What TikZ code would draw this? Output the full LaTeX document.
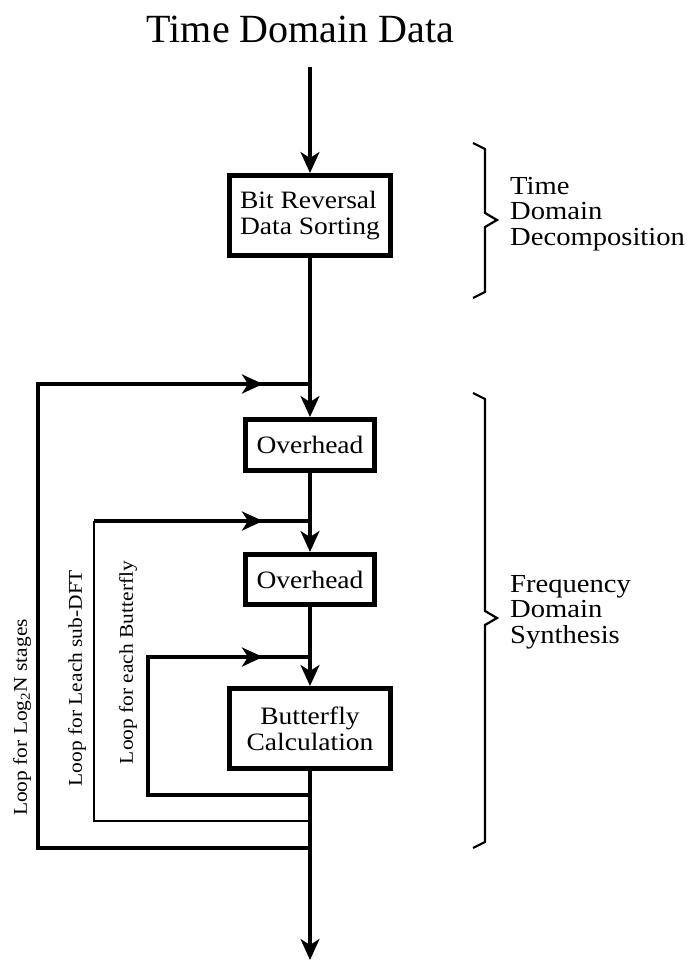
\documentclass[tikz,border=0pt]{standalone}
\usepackage{fontspec}
\setmainfont{Liberation Serif}
\newfontfamily\labfont[FakeStretch=1.1]{Liberation Serif}
\usetikzlibrary{arrows.meta}
\begin{document}
\begin{tikzpicture}[x=1bp,y=-1bp,
  flowline/.style={line width=3.2bp},
  thickloop/.style={line width=4.5bp},
  thinloop/.style={line width=2.8bp},
  tip/.style={-{Stealth[length=21bp,width=19bp,inset=6bp]}},
  procbox/.style={draw,line width=5bp,inner sep=0pt,font=\labfont\fontsize{25bp}{26bp}\selectfont},
  looplabel/.style={rotate=90,inner sep=0pt,font=\labfont\fontsize{19.5bp}{22bp}\selectfont},
  bracelabel/.style={anchor=west,inner sep=0pt,align=left,font=\labfont\fontsize{26bp}{25.5bp}\selectfont},
  bracepath/.style={line width=2.2bp,line join=miter}
]
\useasboundingbox (0,0) rectangle (696,962);
\node[font=\fontsize{40bp}{48bp}\selectfont, anchor=base, inner sep=0pt] (title) at (300.5,42) {Time Domain Data};
\coordinate (start) at (310,67);
\coordinate (finish) at (310,960);
\node[procbox, minimum width=161bp, minimum height=80bp, align=left] (bitrev) at (310,215.5) {Bit Reversal\\Data Sorting};
\node[procbox, minimum width=129bp, minimum height=51bp] (ov1) at (310,445) {Overhead};
\node[procbox, minimum width=129bp, minimum height=50bp] (ov2) at (310,579.5) {Overhead};
\node[procbox, minimum width=161bp, minimum height=80bp, align=center] (bfly) at (310,728.5) {Butterfly\\Calculation};

% main flow
\draw[flowline,tip] (start) -- (bitrev.north);
\draw[flowline,tip] (bitrev.south) -- (ov1.north);
\draw[flowline,tip] (ov1.south) -- (ov2.north);
\draw[flowline,tip] (ov2.south) -- (bfly.north);
\draw[flowline,tip] (bfly.south) -- (finish);

% loop coordinates
\coordinate (j1t) at (310,384); \coordinate (j1b) at (310,848);
\coordinate (c1) at (38,384);   \coordinate (a1) at (263,384);
\coordinate (j2t) at (310,521); \coordinate (j2b) at (310,821);
\coordinate (c2) at (94,521);   \coordinate (a2) at (263,521);
\coordinate (j3t) at (310,657); \coordinate (j3b) at (310,795);
\coordinate (c3) at (148,657);  \coordinate (a3) at (263,657);

% loop 1 (Log2 N stages)
\draw[thickloop] (j1b) -| (c1) -- (j1t);
\draw[thickloop,tip] (c1) -- (a1);
% loop 2 (sub-DFT)
\draw[thinloop] (j2b) -| (c2);
\draw[thickloop] (c2) -- (j2t);
\draw[thickloop,tip] (c2) -- (a2);
% loop 3 (butterfly)
\draw[thickloop] (j3b) -| (c3) -- (j3t);
\draw[thickloop,tip] (c3) -- (a3);

% loop labels
\node[looplabel] (lab1) at (22,717.5) {Loop for Log\textsubscript{2}N stages};
\node[looplabel] (lab2) at (77,678) {Loop for Leach sub-DFT};
\node[looplabel] (lab3) at (128,662.5) {Loop for each Butterfly};

% braces
\draw[bracepath] (473,143) -- (485,149) -- (485,213) -- (497,220) -- (485,227) -- (485,292) -- (473,298);
\draw[bracepath] (473,393) -- (485,399) -- (485,611) -- (497,618) -- (485,625) -- (485,842) -- (473,848);

\node[bracelabel] (tdd) at (510,214) {Time\\Domain\\Decomposition};
\node[bracelabel] (fds) at (510,612) {Frequency\\Domain\\Synthesis};
\end{tikzpicture}
\end{document}
